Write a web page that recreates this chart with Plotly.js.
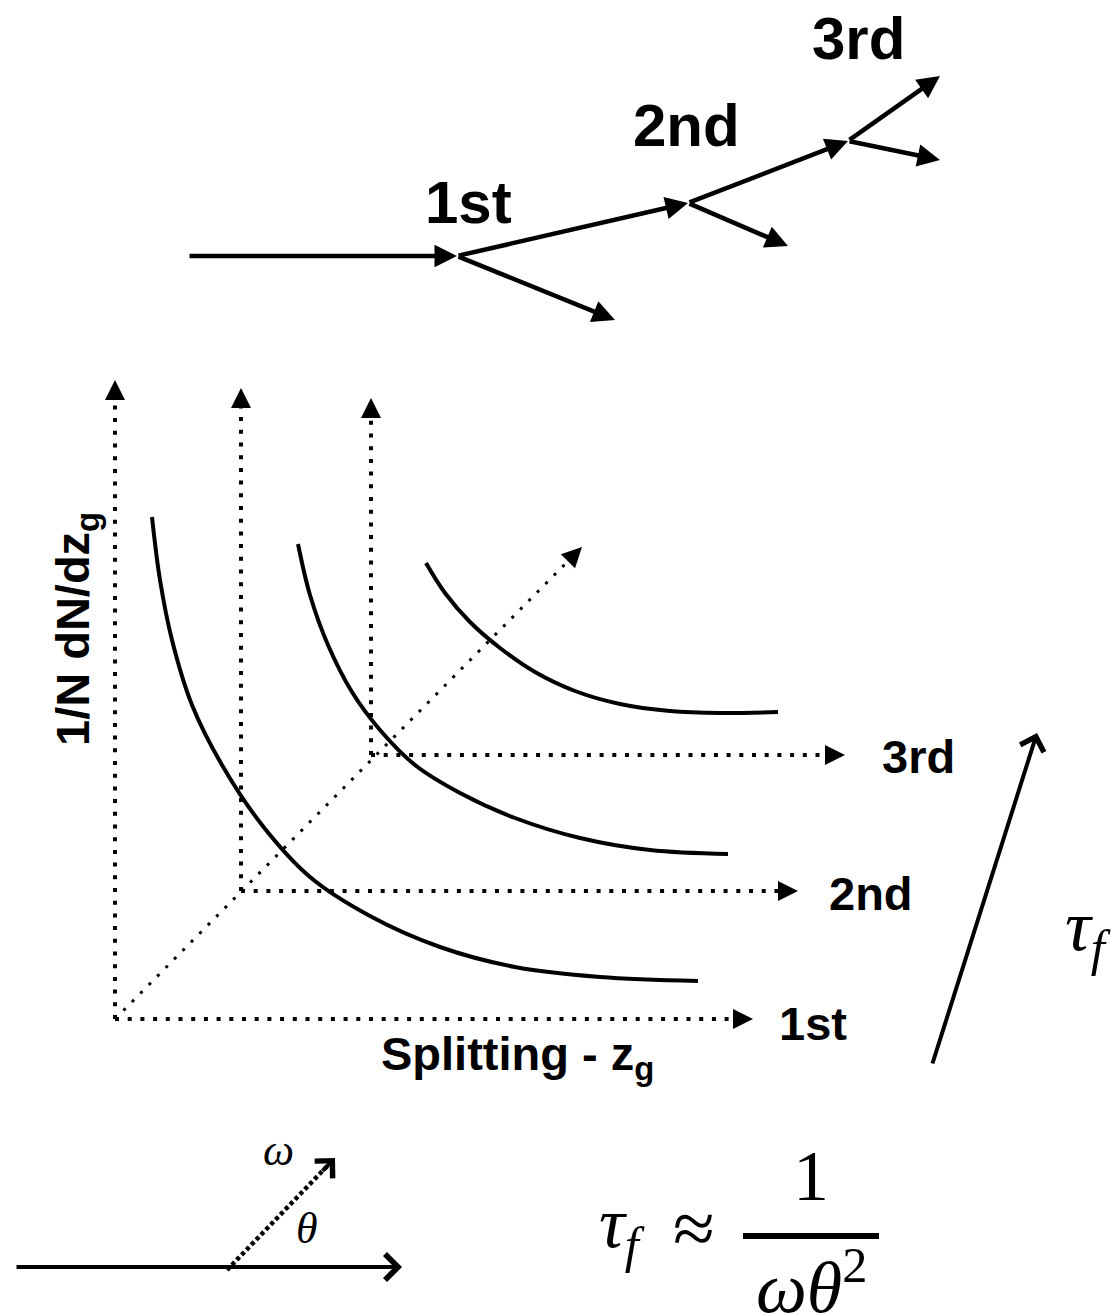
<!DOCTYPE html>
<html>
<head>
<meta charset="utf-8">
<script src="https://cdn.plot.ly/plotly-3.0.1.min.js"></script>
<style>html,body{margin:0;padding:0;background:#fff;}#chart{width:1113px;height:1313px;}</style>
</head>
<body>
<div id="chart"></div>
<script>
// ---------- data (diagram coordinates in the 1113x1313 canvas) ----------
// Top: splitting tree segments
const treeX0 = [188, 457, 688, 457, 688, 848, 848];
const treeY0 = [256, 256, 203, 256, 203, 141, 141];
const treeX1 = [457, 688, 848, 615, 788, 940, 940];
const treeY1 = [256, 203, 141, 320, 246, 76, 160];
const treeLabels = ['1st', '2nd', '3rd'];
const treeLabelX = [468, 686, 858];
const treeLabelY = [202, 125, 38];

// Middle: pseudo-3D axes
const axisOriginX = [115, 241, 371];
const axisOriginY = [1019, 891, 755];
const axisTopY = [380, 388, 398];
const axisRightX = [753, 798, 845];
const axisLabels = ['1st', '2nd', '3rd'];
const axisLabelX = [777, 827, 880];
const axisLabelY = [1023, 893, 756];
const diagX = [115, 582];
const diagY = [1019, 547];

// zg distributions for each splitting
const curve1X = [152, 160, 172, 192, 222, 262, 310, 370, 440, 515, 600, 698];
const curve1Y = [517, 580, 640, 705, 765, 825, 877, 916, 947, 967, 977, 981];
const curve2X = [298, 310, 328, 352, 380, 415, 460, 515, 580, 650, 728];
const curve2Y = [544, 595, 645, 692, 730, 765, 793, 818, 838, 850, 854];
const curve3X = [426, 445, 470, 500, 535, 575, 620, 670, 720, 778];
const curve3Y = [563, 593, 622, 648, 672, 691, 704, 711, 713, 712];

// Formation-time arrow (right)
const tauArrowX = [932, 1037];
const tauArrowY = [1065, 733];

// Bottom-left emission sketch
const jetX = [15, 402];
const jetY = [1267, 1267];
const gluonX = [227, 335];
const gluonY = [1270, 1158];

// Formula fraction bar
const barX = [743, 879];
const barY = [1236, 1236];

// ---------- build ----------
const BLACK = '#000';
const traces = [];
const ann = [];

function line(xs, ys, width, dash, shape) {
  traces.push({type: 'scatter', mode: 'lines', x: xs, y: ys, hoverinfo: 'skip',
    line: {color: BLACK, width: width, dash: dash || 'solid', shape: shape || 'linear', smoothing: 1}});
}
function arrow(x0, y0, x1, y1, width, head, size) {
  ann.push({x: x1, y: y1, ax: x0, ay: y0, xref: 'x', yref: 'y', axref: 'x', ayref: 'y',
    text: '', showarrow: true, arrowhead: head, arrowsize: size, arrowwidth: width,
    arrowcolor: BLACK, standoff: 0, startstandoff: 0});
}
// arrow head only at end of (x0,y0)->(x1,y1), tail placed 'len' px back
function headOnly(x0, y0, x1, y1, width, head, size, len) {
  const dx = x1 - x0, dy = y1 - y0, d = Math.hypot(dx, dy);
  arrow(x1 - dx / d * len, y1 - dy / d * len, x1, y1, width, head, size);
}
function pointBack(x0, y0, x1, y1, len) {
  const dx = x1 - x0, dy = y1 - y0, d = Math.hypot(dx, dy);
  return [x1 - dx / d * len, y1 - dy / d * len];
}
function txt(text, x, y, size, family, weight, xanchor, angle) {
  ann.push({x: x, y: y, xref: 'x', yref: 'y', text: text, showarrow: false,
    xanchor: xanchor || 'center', yanchor: 'middle', textangle: angle || 0,
    font: {family: family, size: size, color: BLACK, weight: weight || 400}});
}

const SANS = 'Liberation Sans, Arial, Helvetica, sans-serif';
const SERIF = 'Liberation Serif, Times New Roman, serif';

// top tree
for (let i = 0; i < treeX0.length; i++) {
  arrow(treeX0[i], treeY0[i], treeX1[i], treeY1[i], 4.5, 2, 1);
}
treeLabels.forEach((t, i) => txt(t, treeLabelX[i], treeLabelY[i], 60, SANS, 700));

// dotted axes
const DOT = '4px,8.7px';
for (let i = 0; i < axisOriginX.length; i++) {
  // vertical
  line([axisOriginX[i], axisOriginX[i]], [axisOriginY[i], axisTopY[i] + 18], 4, DOT);
  headOnly(axisOriginX[i], axisOriginY[i], axisOriginX[i], axisTopY[i], 4, 2, 1, 20);
  // horizontal
  line([axisOriginX[i], axisRightX[i] - 18], [axisOriginY[i], axisOriginY[i]], 4, DOT);
  headOnly(axisOriginX[i], axisOriginY[i], axisRightX[i], axisOriginY[i], 4, 2, 1, 20);
  txt(axisLabels[i], axisLabelX[i], axisLabelY[i], 47, SANS, 700, 'left');
}
// diagonal axis
const dEnd = pointBack(diagX[0], diagY[0], diagX[1], diagY[1], 16);
line([diagX[0], dEnd[0]], [diagY[0], dEnd[1]], 3, '3px,9px');
headOnly(diagX[0], diagY[0], diagX[1], diagY[1], 4, 2, 1, 20);

// curves
line(curve1X, curve1Y, 4, 'solid', 'spline');
line(curve2X, curve2Y, 4, 'solid', 'spline');
line(curve3X, curve3Y, 4, 'solid', 'spline');

// axis titles
txt('Splitting - z<sub>g</sub>', 517, 1057, 47, SANS, 700);
txt('1/N dN/dz<sub>g</sub>', 76, 629, 47, SANS, 700, 'center', -90);

// formation time arrow + label
arrow(tauArrowX[0], tauArrowY[0], tauArrowX[1], tauArrowY[1], 4, 4, 1.2);
txt('<i>τ</i><sub><i>f</i></sub>', 1063, 931, 72, SERIF, 400, 'left');

// bottom-left emission sketch
arrow(jetX[0], jetY[0], jetX[1], jetY[1], 4, 4, 1.25);
const gEnd = pointBack(gluonX[0], gluonY[0], gluonX[1], gluonY[1], 6);
line([gluonX[0], gEnd[0]], [gluonY[0], gEnd[1]], 4.5, '4px,3px');
headOnly(gluonX[0], gluonY[0], gluonX[1], gluonY[1], 4, 4, 1.2, 20);
txt('<i>ω</i>', 278, 1150, 44, SERIF);
txt('<i>θ</i>', 307, 1228, 44, SERIF);

// formula
txt('<i>τ</i><sub><i>f</i></sub>', 597, 1228, 72, SERIF, 400, 'left');
txt('≈', 694, 1228, 76, SERIF);
line(barX, barY, 6);
txt('1', 811, 1176, 72, SERIF);
txt('<i>ωθ</i><sup>2</sup>', 811, 1282, 72, SERIF);

const layout = {
  width: 1113, height: 1313,
  margin: {l: 0, r: 0, t: 0, b: 0, pad: 0},
  paper_bgcolor: '#fff', plot_bgcolor: '#fff',
  showlegend: false,
  xaxis: {range: [0, 1113], visible: false, fixedrange: true},
  yaxis: {range: [1313, 0], visible: false, fixedrange: true},
  annotations: ann
};
Plotly.newPlot('chart', traces, layout, {staticPlot: true, displayModeBar: false});
</script>
</body>
</html>
